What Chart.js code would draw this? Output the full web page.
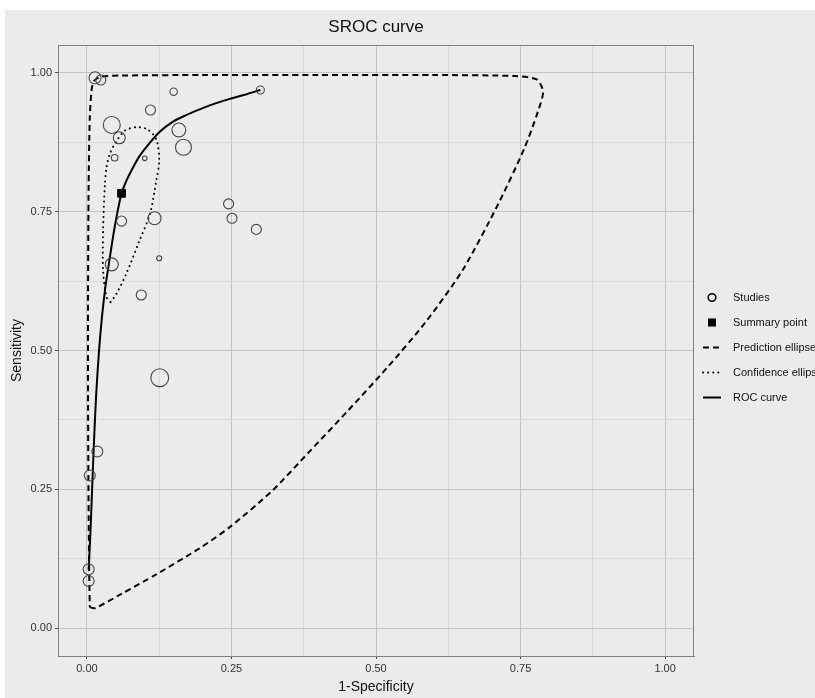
<!DOCTYPE html>
<html>
<head>
<meta charset="utf-8">
<script src="https://cdn.jsdelivr.net/npm/chart.js@4.4.0/dist/chart.umd.min.js"></script>
<style>
  html, body { margin: 0; padding: 0; background: #fff; }
  #wrap { position: absolute; left: 5px; top: 10px; width: 810px; height: 688px; background: #ebebeb; }
</style>
</head>
<body>
<div id="wrap"><canvas id="sroc"></canvas></div>
<script>
// individual studies: 1-specificity, sensitivity, relative weight
var studyFpr  = [0.014, 0.024, 0.150, 0.110, 0.043, 0.056, 0.159, 0.167, 0.048, 0.100, 0.300,
                 0.060, 0.117, 0.125, 0.043, 0.094, 0.245, 0.251, 0.293, 0.126, 0.018, 0.005, 0.003, 0.003];
var studySens = [0.991, 0.987, 0.966, 0.933, 0.906, 0.883, 0.897, 0.866, 0.847, 0.846, 0.969,
                 0.733, 0.738, 0.666, 0.655, 0.600, 0.764, 0.738, 0.718, 0.451, 0.318, 0.275, 0.106, 0.085];
var studyWeight = [9, 6.3, 3.4, 6.3, 18, 9, 12, 16, 2.7, 1.3, 4,
                   6.3, 10.5, 1.6, 10.5, 6.3, 6.3, 6.3, 6.3, 20, 7.5, 7.5, 7.5, 7.5];

var summaryFpr = [0.060];
var summarySens = [0.783];

// SROC curve
var rocFpr  = [0.003, 0.006, 0.009, 0.012, 0.016, 0.021, 0.026, 0.032, 0.038, 0.046, 0.053, 0.060,
               0.068, 0.080, 0.091, 0.108, 0.126, 0.149, 0.170, 0.195, 0.220, 0.247, 0.275, 0.300];
var rocSens = [0.105, 0.17, 0.25, 0.33, 0.42, 0.50, 0.56, 0.615, 0.656, 0.71, 0.75, 0.783,
               0.805, 0.83, 0.85, 0.873, 0.894, 0.912, 0.923, 0.934, 0.944, 0.953, 0.961, 0.969];

// prediction region
var predFpr  = [0.005, 0.014, 0.06, 0.12, 0.195, 0.247, 0.321, 0.384, 0.45, 0.52, 0.585, 0.65, 0.712,
                0.757, 0.780, 0.789, 0.778, 0.74, 0.6, 0.4, 0.2, 0.06, 0.025, 0.012, 0.008, 0.005,
                0.003, 0.002, 0.002, 0.003, 0.004, 0.005];
var predSens = [0.038, 0.036, 0.062, 0.097, 0.144, 0.182, 0.248, 0.317, 0.39, 0.47, 0.55, 0.645, 0.765,
                0.865, 0.93, 0.966, 0.988, 0.994, 0.996, 0.996, 0.996, 0.995, 0.993, 0.985, 0.968, 0.92,
                0.8, 0.6, 0.4, 0.2, 0.1, 0.038];

// confidence region
var confFpr  = [0.041, 0.051, 0.068, 0.091, 0.109, 0.120, 0.125, 0.120, 0.105, 0.086, 0.066,
                0.050, 0.040, 0.034, 0.031, 0.028, 0.028, 0.034, 0.041];
var confSens = [0.587, 0.602, 0.638, 0.698, 0.746, 0.806, 0.842, 0.880, 0.898, 0.902, 0.896,
                0.875, 0.855, 0.83, 0.797, 0.716, 0.644, 0.596, 0.587];

var gridValues = [0, 0.125, 0.25, 0.375, 0.5, 0.625, 0.75, 0.875, 1];
var tickLabels = ["0.00", "", "0.25", "", "0.50", "", "0.75", "", "1.00"];

function pts(xs, ys) {
  return xs.map(function (x, i) { return { x: x, y: ys[i] }; });
}

var fontName = "'Liberation Sans Narrow', 'Liberation Sans', Arial, sans-serif";

function axis(title, pad) {
  return {
    type: 'linear',
    min: -0.05,
    max: 1.05,
    afterBuildTicks: function (scale) {
      scale.ticks = gridValues.map(function (v) { return { value: v }; });
    },
    ticks: {
      color: '#333',
      font: { family: fontName, size: 11 },
      padding: 3,
      autoSkip: false,
      maxRotation: 0,
      callback: function (v) {
        var i = gridValues.indexOf(v);
        return i >= 0 ? tickLabels[i] : '';
      }
    },
    grid: {
      color: function (c) {
        var i = gridValues.indexOf(c.tick ? c.tick.value : -1);
        return (i >= 0 && tickLabels[i] !== '') ? '#c4c4c4' : '#d9d9d9';
      },
      tickColor: function (c) {
        var i = gridValues.indexOf(c.tick ? c.tick.value : -1);
        return (i >= 0 && tickLabels[i] !== '') ? '#444' : 'rgba(0,0,0,0)';
      },
      tickLength: 3,
      lineWidth: 1
    },
    border: { display: true, color: '#808080', width: 1 },
    title: {
      display: true,
      text: title,
      color: '#111',
      font: { family: fontName, size: 14 },
      padding: pad
    }
  };
}

var xAxis = axis('1-Specificity', { top: 0, bottom: 2 });
xAxis.afterFit = function (scale) { scale.height = 42; };
var yAxis = axis('Sensitivity', { top: 4, bottom: 0 });
yAxis.afterFit = function (scale) { scale.width = 53; };

// panel frame + legend on the right
var sideLegend = {
  id: 'sideLegend',
  afterDatasetsDraw: function (chart) {
    var a = chart.chartArea, ctx = chart.ctx;
    ctx.save();
    ctx.strokeStyle = '#808080';
    ctx.lineWidth = 1;
    ctx.strokeRect(a.left + 0.5, a.top + 0.5, a.right - a.left - 1, a.bottom - a.top);
    ctx.restore();
  },
  afterDraw: function (chart) {
    var a = chart.chartArea, ctx = chart.ctx;
    var ds = chart.data.datasets;
    var order = [3, 4, 0, 1, 2];
    var cx = a.right + 18;
    var tx = a.right + 39;
    var y0 = (a.top + a.bottom) / 2 - 2 * 25 - 3;
    ctx.save();
    ctx.font = '11px ' + fontName;
    ctx.textBaseline = 'middle';
    ctx.fillStyle = '#111';
    order.forEach(function (k, i) {
      var d = ds[k];
      var y = y0 + i * 25;
      ctx.save();
      ctx.strokeStyle = '#000';
      if (d.legendKind === 'circle') {
        ctx.lineWidth = 1.5;
        ctx.beginPath();
        ctx.arc(cx, y, 3.8, 0, Math.PI * 2);
        ctx.stroke();
      } else if (d.legendKind === 'square') {
        ctx.fillStyle = '#000';
        ctx.fillRect(cx - 4, y - 4, 8, 8);
      } else {
        ctx.lineWidth = d.borderWidth;
        ctx.lineCap = d.borderCapStyle || 'butt';
        ctx.setLineDash(d.borderDash || []);
        ctx.beginPath();
        ctx.moveTo(cx - 9, y);
        ctx.lineTo(cx + 9, y);
        ctx.stroke();
      }
      ctx.restore();
      ctx.fillText(d.label, tx, y);
    });
    ctx.restore();
  }
};

new Chart(document.getElementById('sroc'), {
  type: 'scatter',
  data: {
    datasets: [
      {
        label: 'Prediction ellipse',
        legendKind: 'line',
        data: pts(predFpr, predSens),
        showLine: true,
        borderColor: '#000',
        borderWidth: 2,
        borderDash: [6, 4],
        tension: 0.25,
        pointRadius: 0,
        order: 3
      },
      {
        label: 'Confidence ellipse',
        legendKind: 'line',
        data: pts(confFpr, confSens),
        showLine: true,
        borderColor: '#000',
        borderWidth: 2,
        borderDash: [0.1, 5],
        borderCapStyle: 'round',
        tension: 0.3,
        pointRadius: 0,
        order: 4
      },
      {
        label: 'ROC curve',
        legendKind: 'line',
        data: pts(rocFpr, rocSens),
        showLine: true,
        borderColor: '#000',
        borderWidth: 2,
        tension: 0.3,
        pointRadius: 0,
        order: 2
      },
      {
        label: 'Studies',
        legendKind: 'circle',
        data: pts(studyFpr, studySens),
        pointStyle: 'circle',
        pointRadius: function (c) { return 2 * Math.sqrt(studyWeight[c.dataIndex]); },
        pointBorderColor: '#444',
        pointBackgroundColor: 'rgba(0,0,0,0)',
        pointBorderWidth: 1.1,
        order: 1
      },
      {
        label: 'Summary point',
        legendKind: 'square',
        data: pts(summaryFpr, summarySens),
        pointStyle: 'rect',
        pointRadius: 5.5,
        pointBorderColor: '#000',
        pointBackgroundColor: '#000',
        order: 0
      }
    ]
  },
  options: {
    responsive: true,
    maintainAspectRatio: false,
    animation: false,
    layout: { padding: { left: 0, right: 121, top: 0, bottom: 0 } },
    plugins: {
      legend: { display: false },
      tooltip: { enabled: false },
      title: {
        display: true,
        fullSize: false,
        text: 'SROC curve',
        color: '#111',
        font: { family: fontName, size: 17, weight: 'normal' },
        padding: { top: 7, bottom: 7.6 }
      }
    },
    scales: { x: xAxis, y: yAxis }
  },
  plugins: [sideLegend]
});
</script>
</body>
</html>
